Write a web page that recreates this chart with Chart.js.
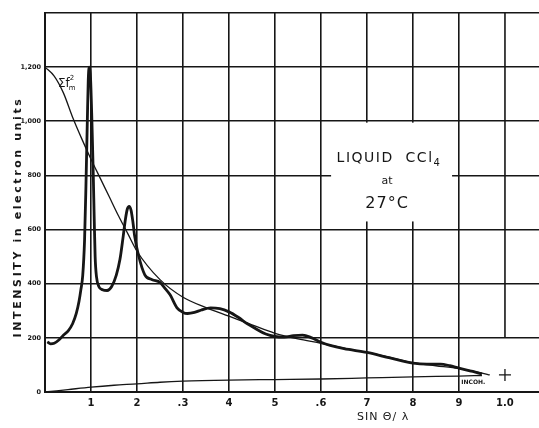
<!DOCTYPE html>
<html>
<head>
<meta charset="utf-8">
<script src="https://cdn.jsdelivr.net/npm/chart.js@4/dist/chart.umd.min.js"></script>
<style>
  html, body { margin: 0; padding: 0; background: #fff; }
  canvas { display: block; }
</style>
</head>
<body>
<canvas id="chart" width="539" height="428"></canvas>
<script>
/* Liquid CCl4 at 27°C — intensity curve vs sin θ / λ */

// experimental intensity (thick curve)
const sExp = [0.005, 0.012, 0.02, 0.03, 0.04, 0.05, 0.06, 0.068, 0.074, 0.078, 0.082, 0.086, 0.089, 0.092,
  0.094, 0.096, 0.099, 0.102, 0.105, 0.107, 0.109, 0.112, 0.117, 0.125, 0.135, 0.145, 0.155, 0.163,
  0.17, 0.175, 0.179, 0.183, 0.187, 0.191, 0.195, 0.203, 0.217, 0.233, 0.25, 0.26, 0.272, 0.287, 0.3, 0.31,
  0.325, 0.34, 0.36, 0.38, 0.4, 0.42, 0.44, 0.46, 0.48, 0.5, 0.52, 0.54, 0.56, 0.58, 0.6, 0.62, 0.65,
  0.7, 0.75, 0.8, 0.83, 0.86, 0.88, 0.9, 0.93, 0.95];
const iExp = [185, 178, 180, 192, 210, 225, 252, 290, 335, 378, 430, 560, 760, 1000,
  1150, 1200, 1160, 1000, 800, 640, 500, 425, 390, 378, 375, 390, 432, 490,
  575, 640, 676, 686, 672, 630, 575, 507, 433, 415, 405, 385, 359, 311, 294, 290,
  294, 303, 311, 308, 296, 276, 252, 232, 214, 205, 203, 208, 210, 200, 184, 172, 160,
  146, 126, 107, 103, 103, 97, 88, 76, 67];

// Σ f_m² (thin curve)
const sSum = [0, 0.02, 0.04, 0.06, 0.08, 0.1, 0.12, 0.14, 0.16, 0.18, 0.2, 0.25, 0.3, 0.35, 0.4,
  0.45, 0.5, 0.55, 0.6, 0.65, 0.7, 0.75, 0.8, 0.85, 0.9, 0.95, 0.967];
const iSum = [1200, 1167, 1105, 1015, 935, 860, 790, 720, 650, 585, 520, 415, 350, 312, 280,
  248, 217, 196, 180, 162, 146, 128, 108, 97, 86, 70, 63];

// incoherent scattering
const sIncoh = [0, 0.05, 0.1, 0.15, 0.2, 0.25, 0.3, 0.4, 0.5, 0.6, 0.7, 0.8, 0.9, 0.95];
const iIncoh = [0, 9, 18, 25, 30, 36, 40, 44, 46, 48, 52, 56, 59, 61];
const incohMark = [{ x: 1.0, y: 63 }];

const xTickValues = [0.1, 0.2, 0.3, 0.4, 0.5, 0.6, 0.7, 0.8, 0.9, 1.0];
const xTickLabels = ['1', '2', '.3', '4', '5', '.6', '7', '8', '9', '1.0'];
const yTickValues = [0, 200, 400, 600, 800, 1000, 1200, 1400];
const yTickLabels = ['0', '200', '400', '600', '800', '1,000', '1,200', ''];

const INK = '#161616';

const pts = (xs, ys) => xs.map((x, i) => ({ x, y: ys[i] }));

const decor = {
  id: 'decor',
  beforeDatasetsDraw(chart) {
    const { ctx, scales: { x, y } } = chart;
    ctx.save();
    // white box behind the title text
    const bx0 = x.getPixelForValue(0.622), bx1 = x.getPixelForValue(0.885);
    const by0 = y.getPixelForValue(995), by1 = y.getPixelForValue(630);
    ctx.fillStyle = '#fff';
    ctx.fillRect(bx0, by0, bx1 - bx0, by1 - by0);
    // 1.0 grid line stops at the 200 level
    ctx.strokeStyle = INK;
    ctx.lineWidth = 1.6;
    ctx.beginPath();
    ctx.moveTo(x.getPixelForValue(1.0), y.getPixelForValue(1400));
    ctx.lineTo(x.getPixelForValue(1.0), y.getPixelForValue(200));
    ctx.stroke();
    ctx.restore();
  },
  afterDraw(chart) {
    const { ctx, scales: { x, y } } = chart;
    ctx.save();
    ctx.fillStyle = INK;

    // y axis title
    ctx.save();
    ctx.translate(18, 217);
    ctx.rotate(-Math.PI / 2);
    ctx.font = 'bold 11px "DejaVu Sans"';
    ctx.letterSpacing = '2.6px';
    ctx.textAlign = 'center';
    ctx.textBaseline = 'middle';
    ctx.fillText('INTENSITY in electron units', 0, 0);
    ctx.restore();

    // x axis title
    ctx.font = '11px "DejaVu Sans"';
    ctx.letterSpacing = '1px';
    ctx.textAlign = 'center';
    ctx.textBaseline = 'alphabetic';
    ctx.fillText('SIN Θ/ λ', x.getPixelForValue(0.735), 420);

    // title inside the plot
    const cx = x.getPixelForValue(0.748);
    ctx.font = '14px "DejaVu Sans"';
    ctx.letterSpacing = '1.5px';
    ctx.textAlign = 'left';
    const t1 = 'LIQUID  CCl';
    const w1 = ctx.measureText(t1).width;
    const x1 = cx - (w1 + 8) / 2;
    ctx.fillText(t1, x1, 162);
    ctx.font = '10px "DejaVu Sans"';
    ctx.fillText('4', x1 + w1, 166);
    ctx.textAlign = 'center';
    ctx.font = '11px "DejaVu Sans"';
    ctx.letterSpacing = '0px';
    ctx.fillText('at', cx - 2, 184);
    ctx.font = '16px "DejaVu Sans"';
    ctx.letterSpacing = '1px';
    ctx.fillText('27°C', cx - 2, 208);

    // Σ f_m² label
    ctx.letterSpacing = '0px';
    ctx.textAlign = 'left';
    ctx.font = '12px "DejaVu Sans"';
    ctx.fillText('Σf', 58, 87);
    const wf = ctx.measureText('Σf').width;
    ctx.font = '7px "DejaVu Sans"';
    ctx.fillText('m', 58 + wf - 1, 90);
    ctx.fillText('2', 58 + wf, 80);

    // INCOH. label
    ctx.font = 'bold 6px "DejaVu Sans"';
    ctx.fillText('INCOH.', x.getPixelForValue(0.905), 384);

    ctx.restore();
  }
};

new Chart(document.getElementById('chart'), {
  type: 'line',
  data: {
    datasets: [
      {
        data: pts(sSum, iSum),
        borderColor: INK,
        borderWidth: 1.3,
        pointRadius: 0,
        cubicInterpolationMode: 'monotone',
      },
      {
        data: pts(sIncoh, iIncoh),
        borderColor: INK,
        borderWidth: 1.3,
        pointRadius: 0,
        cubicInterpolationMode: 'monotone',
      },
      {
        data: pts(sExp, iExp),
        borderColor: INK,
        borderWidth: 2.8,
        pointRadius: 0,
        cubicInterpolationMode: 'monotone',
      },
      {
        data: incohMark,
        showLine: false,
        pointStyle: 'cross',
        pointRadius: 6,
        borderColor: INK,
        borderWidth: 1.3,
      }
    ]
  },
  options: {
    responsive: false,
    animation: false,
    events: [],
    layout: { autoPadding: false, padding: { top: 13, right: 0, left: 0, bottom: 0 } },
    plugins: { legend: { display: false }, tooltip: { enabled: false } },
    scales: {
      x: {
        type: 'linear',
        min: 0,
        max: 1.074,
        afterBuildTicks: s => { s.ticks = xTickValues.map(v => ({ value: v })); },
        afterFit: s => { s.height = 36; s.paddingLeft = 0; s.paddingRight = 0; },
        ticks: {
          autoSkip: false,
          maxRotation: 0,
          padding: 5,
          color: INK,
          font: { family: 'DejaVu Sans', size: 10, weight: 'bold' },
          callback: (v, i) => xTickLabels[i],
        },
        grid: {
          drawTicks: false,
          lineWidth: 1.6,
          color: c => (c.index === 9 ? 'rgba(0,0,0,0)' : INK),
        },
        border: { display: true, color: INK, width: 2 },
      },
      y: {
        min: 0,
        max: 1400,
        afterBuildTicks: s => { s.ticks = yTickValues.map(v => ({ value: v })); },
        afterFit: s => { s.width = 45; s.paddingTop = 0; s.paddingBottom = 0; },
        ticks: {
          padding: 4,
          color: INK,
          font: { family: 'DejaVu Sans', size: 6.5, weight: 'bold' },
          callback: (v, i) => yTickLabels[i],
        },
        grid: { drawTicks: false, lineWidth: 1.6, color: INK },
        border: { display: true, color: INK, width: 2 },
      }
    }
  },
  plugins: [decor]
});
</script>
</body>
</html>
